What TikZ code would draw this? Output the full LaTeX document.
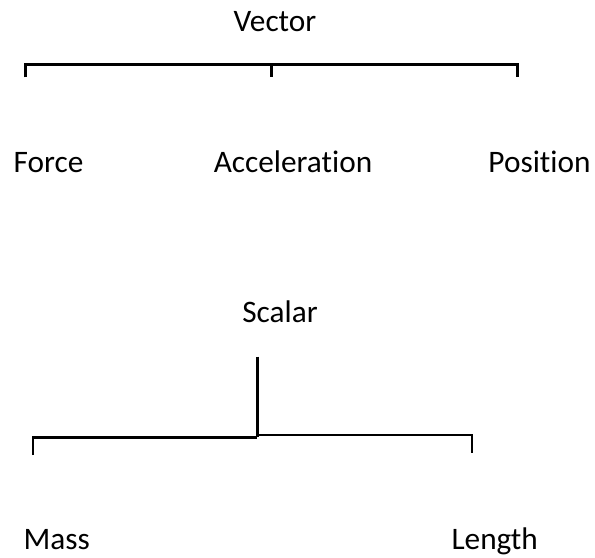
\documentclass[tikz,border=0pt]{standalone}
\usepackage{fontspec}
\setmainfont{Carlito}[Ligatures=NoCommon]
\begin{document}
\begin{tikzpicture}[x=1bp,y=-1bp,
  lbl/.style={anchor=base,inner sep=0pt,font=\fontsize{31.3bp}{36bp}\selectfont},
  bline/.style={line width=2.6bp},
  thinline/.style={line width=2.2bp},
  thickline/.style={line width=3.2bp}]
\useasboundingbox (0,0) rectangle (595,558);
% Vector tree
\node[lbl] (vec) at (275,31.7) {Vector};
\node[lbl] (force) at (48.5,172.7) {Force};
\node[lbl] (acc) at (293,172.7) {Acceleration};
\node[lbl] (pos) at (539.5,172.7) {Position};
\coordinate (vl) at (25.3,64.3);
\coordinate (vm) at (271.7,64.3);
\coordinate (vr) at (517.7,64.3);
\coordinate (vlb) at (25.3,77.5);
\coordinate (vmb) at (271.7,77.5);
\coordinate (vrb) at (517.7,77.5);
\draw[bline] (vlb) -- (vl) -- (vr) -- (vrb);
\draw[bline] (vm) -- (vmb);
% Scalar tree
\node[lbl] (sca) at (280,322.7) {Scalar};
\node[lbl] (mass) at (56.7,549.3) {Mass};
\node[lbl] (len) at (494.7,549.3) {Length};
\coordinate (st) at (257.3,356.7);
\coordinate (sj) at (257.3,437.3);
\coordinate (sjr) at (257.3,435);
\coordinate (sl) at (33,437.3);
\coordinate (slb) at (33,455);
\coordinate (sr) at (472.3,435);
\coordinate (srb) at (472.3,453.3);
\draw[thickline] (st) -- (sj);
\draw[bline] (slb) -- (sl) -- (sj);
\draw[thinline] (sjr) -- (sr) -- (srb);
\end{tikzpicture}
\end{document}
